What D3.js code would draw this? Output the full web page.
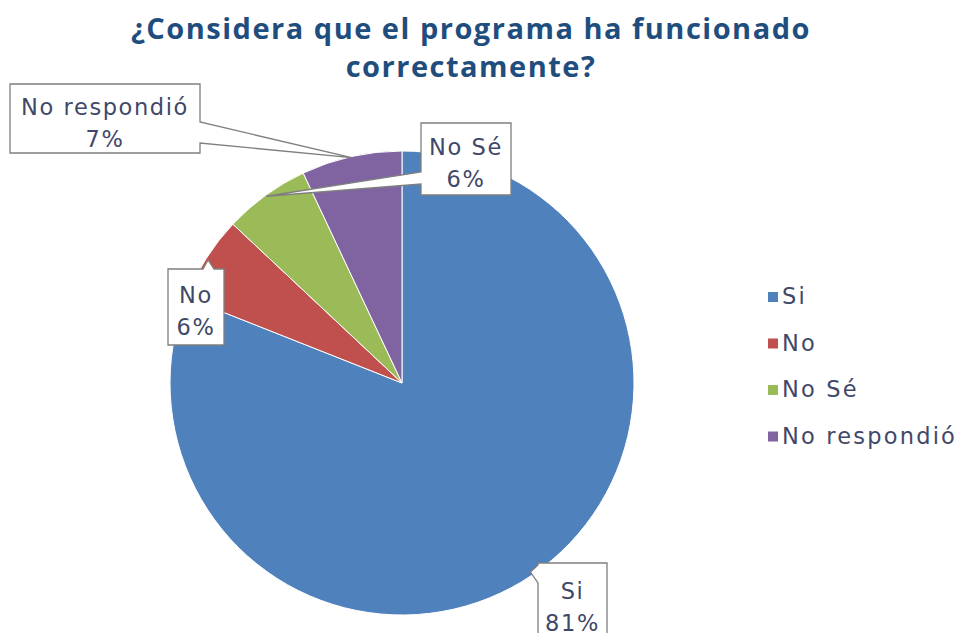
<!DOCTYPE html>
<html>
<head>
<meta charset="utf-8">
<script src="https://cdn.jsdelivr.net/npm/d3@7/dist/d3.min.js"></script>
<style>
  html, body { margin: 0; padding: 0; background: #ffffff; }
  svg { display: block; }
</style>
</head>
<body>
<svg id="chart" width="965" height="633"></svg>
<script>
// ---- data ----
const categories = ["Si", "No", "No Sé", "No respondió"];
const values = [81, 6, 6, 7];
const colors = ["#4F81BD", "#C0504D", "#9BBB59", "#8064A2"];
const titleLines = ["¿Considera que el programa ha funcionado", "correctamente?"];

// ---- layout ----
const W = 965, H = 633;
const cx = 402, cy = 383, R = 232;
const textColor = "#3f4868";
const titleFont = "'Open Sans', 'DejaVu Sans', sans-serif";
const labelFont = "'DejaVu Sans', 'Open Sans', sans-serif";

const svg = d3.select("#chart");

// title
svg.append("g").selectAll("text").data(titleLines).join("text")
  .attr("x", 471)
  .attr("y", (d, i) => 39 + i * 38)
  .attr("text-anchor", "middle")
  .attr("font-family", titleFont)
  .attr("font-weight", "bold")
  .attr("font-size", 29)
  .attr("letter-spacing", 1.5)
  .attr("fill", "#1F4E7E")
  .text(d => d);

// pie
const pie = d3.pie().sort(null).value(d => d)(values);
const arc = d3.arc().innerRadius(0).outerRadius(R);
const g = svg.append("g").attr("transform", `translate(${cx},${cy})`);
g.selectAll("path").data(pie).join("path")
  .attr("d", arc)
  .attr("fill", (d, i) => colors[i])
  .attr("stroke", "#ffffff")
  .attr("stroke-width", 1);

// callouts (box layout per category)
const boxes = [
  { x0: 538, y0: 563, x1: 607, y1: 643, side: "left", a: 565, b: 583, tipR: 0.985 },
  { x0: 168, y0: 269, x1: 224, y1: 345, side: "top", a: 203, b: 214, tipR: 0.99 },
  { x0: 421, y0: 123, x1: 511, y1: 195, side: "left", a: 172, b: 184, tipR: 0.995 },
  { x0: 10, y0: 84, x1: 200, y1: 153, side: "right", a: 122, b: 143, tipR: 0.995 }
];

function calloutPath(bx, tip) {
  const { x0, y0, x1, y1, side, a, b } = bx;
  const p = d3.path();
  p.moveTo(x0, y0);
  if (side === "top") { p.lineTo(a, y0); p.lineTo(tip[0], tip[1]); p.lineTo(b, y0); }
  p.lineTo(x1, y0);
  if (side === "right") { p.lineTo(x1, a); p.lineTo(tip[0], tip[1]); p.lineTo(x1, b); }
  p.lineTo(x1, y1);
  p.lineTo(x0, y1);
  if (side === "left") { p.lineTo(x0, b); p.lineTo(tip[0], tip[1]); p.lineTo(x0, a); }
  p.closePath();
  return p.toString();
}

const total = d3.sum(values);
const labels = svg.append("g");
pie.forEach((d, i) => {
  const bx = boxes[i];
  const mid = (d.startAngle + d.endAngle) / 2;
  const pt = d3.pointRadial(mid, R * bx.tipR);
  const tip = [cx + pt[0], cy + pt[1]];
  labels.append("path")
    .attr("d", calloutPath(bx, tip))
    .attr("fill", "#ffffff")
    .attr("stroke", "#7f7f7f")
    .attr("stroke-width", 1.3);
  const mx = (bx.x0 + bx.x1) / 2, my = (bx.y0 + bx.y1) / 2;
  const pct = Math.round(values[i] / total * 100) + "%";
  [categories[i], pct].forEach((t, j) => {
    labels.append("text")
      .attr("x", mx)
      .attr("y", my + (j === 0 ? -4 : 28))
      .attr("text-anchor", "middle")
      .attr("font-family", labelFont)
      .attr("font-size", 22.5)
      .attr("letter-spacing", 1.6)
      .attr("fill", textColor)
      .text(t);
  });
});

// legend
const legend = svg.append("g").attr("transform", "translate(768,292)");
const li = legend.selectAll("g").data(categories).join("g")
  .attr("transform", (d, i) => `translate(0,${i * 46.5})`);
li.append("rect").attr("width", 10).attr("height", 10)
  .attr("fill", (d, i) => colors[i]);
li.append("text").attr("x", 14).attr("y", 12)
  .attr("font-family", labelFont)
  .attr("font-size", 22.5)
  .attr("letter-spacing", 2.2)
  .attr("fill", textColor)
  .text(d => d);
</script>
</body>
</html>
